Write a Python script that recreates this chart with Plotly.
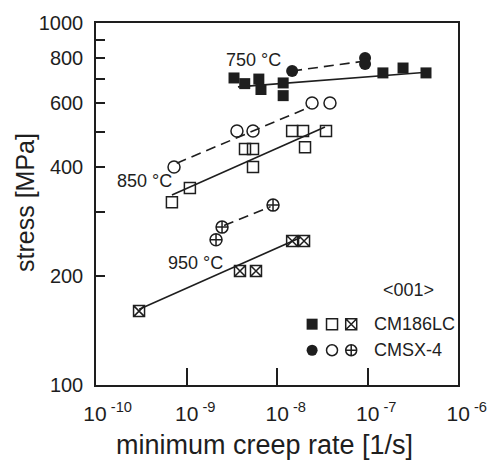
import plotly.graph_objects as go

# ---- data ----
cm_750_x = [3.35e-9, 4.4e-9, 6.3e-9, 6.65e-9, 1.17e-8, 1.17e-8, 1.48e-7, 2.47e-7, 4.43e-7]
cm_750_y = [705, 680, 700, 655, 683, 630, 728, 751, 728]
cm_750_fit_x = [3.7e-9, 4.9e-7]
cm_750_fit_y = [666, 732]

cmsx_750_x = [1.47e-8, 9.4e-8, 9.4e-8]
cmsx_750_y = [737, 800, 770]
cmsx_750_fit_x = [1.47e-8, 9.4e-8]
cmsx_750_fit_y = [737, 785]

cm_850_x = [6.9e-10, 1.09e-9, 4.43e-9, 5.43e-9, 5.43e-9, 1.47e-8, 1.94e-8, 2.04e-8, 3.48e-8]
cm_850_y = [320, 350, 449, 449, 400, 503, 503, 454, 503]
cm_850_fit_x = [6.9e-10, 3.39e-8]
cm_850_fit_y = [335, 516]

cmsx_850_x = [7.28e-10, 3.61e-9, 5.43e-9, 2.44e-8, 3.85e-8]
cmsx_850_y = [400, 503, 503, 601, 601]
cmsx_850_fit_x = [7.8e-10, 2.3e-8]
cmsx_850_fit_y = [410, 586]

cm_950_x = [2.99e-10, 3.9e-9, 5.86e-9, 1.47e-8, 1.99e-8]
cm_950_y = [160, 206.5, 206.5, 250, 250]
cm_950_fit_x = [3e-10, 1.8e-8]
cm_950_fit_y = [162, 255]

cmsx_950_x = [2.47e-9, 2.12e-9, 9.04e-9]
cmsx_950_y = [273, 252, 314]
cmsx_950_fit_x = [2.6e-9, 8.5e-9]
cmsx_950_fit_y = [276, 311]

x_tickvals = [1e-10, 1e-9, 1e-8, 1e-7, 1e-6]
x_tick_exponents = ["-10", "-9", "-8", "-7", "-6"]
y_tickvals = [100, 200, 300, 400, 500, 600, 700, 800, 900, 1000]
y_ticktext = ["100", "200", " ", "400", " ", "600", " ", "800", " ", "1000"]

x_title = "minimum creep rate [1/s]"
y_title = "stress [MPa]"
temp_labels = ["750 °C", "850 °C", "950 °C"]
orientation_label = "<001>"
legend_alloys = ["CM186LC", "CMSX-4"]

# ---- styling ----
FONT = "Liberation Sans, Arial, Helvetica, sans-serif"
INK = "#1e1e1e"
DASH = "10px,6px"
NB = "\u00a0"

# "10" centred on the tick, exponent hanging to the right (as in the original)
x_ticktext = [NB * (4 if len(e) > 2 else 3) + "10<sup> " + e + "</sup>" for e in x_tick_exponents]

fig = go.Figure()

def fit(x, y, dash=None):
    fig.add_trace(go.Scatter(x=x, y=y, mode="lines",
                             line=dict(color=INK, width=1.6, dash=dash),
                             showlegend=False, hoverinfo="skip"))

def pts(x, y, symbol, size=11, lw=1.5):
    fig.add_trace(go.Scatter(x=x, y=y, mode="markers",
                             marker=dict(symbol=symbol, size=size, color=INK,
                                         line=dict(color=INK, width=lw)),
                             showlegend=False))

fit(cm_750_fit_x, cm_750_fit_y)
fit(cmsx_750_fit_x, cmsx_750_fit_y, DASH)
fit(cm_850_fit_x, cm_850_fit_y)
fit(cmsx_850_fit_x, cmsx_850_fit_y, DASH)
fit(cm_950_fit_x, cm_950_fit_y)
fit(cmsx_950_fit_x, cmsx_950_fit_y, DASH)

pts(cm_750_x, cm_750_y, "square", 11, 0)
pts(cmsx_750_x, cmsx_750_y, "circle", 12, 0)
pts(cm_850_x, cm_850_y, "square-open", 11)
pts(cmsx_850_x, cmsx_850_y, "circle-open", 12)
pts(cm_950_x, cm_950_y, "square-x-open", 11)
pts(cmsx_950_x, cmsx_950_y, "circle-cross-open", 12)

# ---- legend drawn on an overlay axis (unit square = plot area) ----
leg_row1 = 0.168
leg_row2 = 0.096
leg_cols = [0.597, 0.652, 0.705]
leg_syms1 = ["square", "square-open", "square-x-open"]
leg_syms2 = ["circle", "circle-open", "circle-cross-open"]
for syms, yrow in ((leg_syms1, leg_row1), (leg_syms2, leg_row2)):
    for sx, sym in zip(leg_cols, syms):
        filled = not sym.endswith("open")
        fig.add_trace(go.Scatter(x=[sx], y=[yrow], mode="markers", xaxis="x2", yaxis="y2",
                                 marker=dict(symbol=sym, size=11, color=INK,
                                             line=dict(color=INK, width=0 if filled else 1.5)),
                                 showlegend=False, hoverinfo="skip"))

annotations = [
    dict(text=temp_labels[0], x=0.434, y=0.898),
    dict(text=temp_labels[1], x=0.133, y=0.564),
    dict(text=temp_labels[2], x=0.276, y=0.337),
    dict(text=orientation_label, x=0.862, y=0.262),
]
anns = []
for a in annotations:
    anns.append(dict(text=a["text"], x=a["x"], y=a["y"], xref="paper", yref="paper",
                     showarrow=False, xanchor="center", yanchor="middle",
                     font=dict(family=FONT, size=18, color=INK)))
for txt, yrow in zip(legend_alloys, (leg_row1, leg_row2)):
    anns.append(dict(text=txt, x=0.762, y=yrow, xref="paper", yref="paper",
                     showarrow=False, xanchor="left", yanchor="middle",
                     font=dict(family=FONT, size=18, color=INK)))
# axis titles
anns.append(dict(text=x_title, x=0.466, y=-0.165, xref="paper", yref="paper",
                 showarrow=False, xanchor="center", yanchor="middle",
                 font=dict(family=FONT, size=27, color=INK)))
anns.append(dict(text=y_title, x=-0.196, y=0.503, xref="paper", yref="paper",
                 showarrow=False, xanchor="center", yanchor="middle", textangle=-90,
                 font=dict(family=FONT, size=25, color=INK)))

# page body has an 8px margin -> figure is 487x452, drawn at (8, 8)
fig.update_layout(
    width=487, height=452,
    margin=dict(l=88, r=37, t=15, b=75, autoexpand=False),
    paper_bgcolor="white", plot_bgcolor="white",
    font=dict(family=FONT, color=INK),
    showlegend=False,
    annotations=anns,
    xaxis=dict(type="log", range=[-10, -6], tickvals=x_tickvals, ticktext=x_ticktext,
               ticks="inside", ticklen=17, tickwidth=1.5, tickcolor=INK,
               showline=True, linecolor=INK, linewidth=1.5, mirror=True,
               showgrid=False, zeroline=False, automargin=False, ticklabelstandoff=9,
               tickfont=dict(family=FONT, size=21, color=INK)),
    yaxis=dict(type="log", range=[2, 3], tickvals=y_tickvals, ticktext=y_ticktext,
               ticks="inside", ticklen=9, tickwidth=1.5, tickcolor=INK,
               showline=True, linecolor=INK, linewidth=1.5, mirror=True,
               showgrid=False, zeroline=False, automargin=False, ticklabelstandoff=7,
               tickfont=dict(family=FONT, size=20, color=INK)),
    xaxis2=dict(overlaying="x", range=[0, 1], visible=False, domain=[0, 1]),
    yaxis2=dict(overlaying="y", range=[0, 1], visible=False, domain=[0, 1]),
)

fig.write_html("out.html")
